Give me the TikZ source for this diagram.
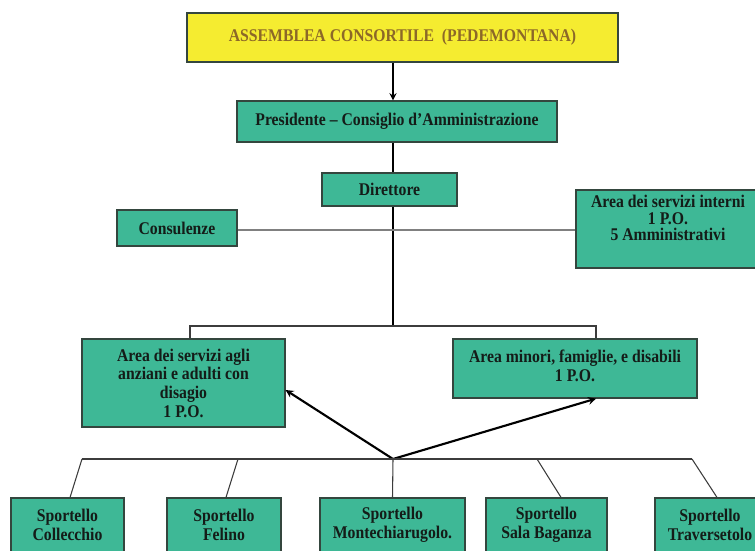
\documentclass[tikz,border=0pt]{standalone}
\usepackage{fontspec}
\setmainfont{Liberation Serif}[FakeStretch=0.88]
\definecolor{boxgreen}{RGB}{62,184,150}
\definecolor{boxline}{RGB}{52,70,62}
\definecolor{boxtext}{RGB}{20,28,24}
\definecolor{assyellow}{RGB}{245,236,48}
\definecolor{asstext}{RGB}{140,104,40}
\definecolor{linegray}{RGB}{60,60,60}
\tikzset{
  box/.style={draw=boxline, fill=boxgreen, line width=0.9pt, text=boxtext, align=center, inner sep=0pt,
    font=\bfseries\fontsize{13.4}{14}\selectfont},
  link/.style={draw=linegray, line width=0.8pt},
  bigarrow/.style={->, draw=black, line width=1.6pt}
}
\begin{document}
\begin{tikzpicture}[x=0.75pt,y=-0.75pt,>=stealth]
\useasboundingbox (0,0) rectangle (755,550);
\clip (0,0) rectangle (755,550);
\coordinate (spine) at (393,0);
\coordinate (cross) at (393,230);
\coordinate (bl) at (190,326);
\coordinate (br) at (596,326);
\coordinate (jn) at (393,459);
\coordinate (b1) at (82,459);
\coordinate (b2) at (238,459);
\coordinate (b4) at (537,459);
\coordinate (b5) at (692,459);
\node[box, fill=assyellow, text=asstext, minimum width=323.25pt, minimum height=36.75pt] (assemblea) at (402.5,37.5) {ASSEMBLEA CONSORTILE\ \ (PEDEMONTANA)};
\node[box, minimum width=240pt, minimum height=30.75pt] (presidente) at (397,121.5) {Presidente -- Consiglio d’Amministrazione};
\node[box, minimum width=101.25pt, minimum height=24.75pt] (direttore) at (389.5,189.5) {Direttore};
\node[box, minimum width=90pt, minimum height=27pt] (consulenze) at (177,228) {Consulenze};
\node[box, minimum width=138pt, minimum height=58.5pt] (interni) at (668,229) {\parbox[c][51pt][t]{136pt}{\centering\fontsize{13.4}{12.5}\selectfont Area dei servizi interni\\1 P.O.\\5 Amministrativi}};
\node[box, minimum width=152.25pt, minimum height=66pt] (anziani) at (183.5,383) {Area dei servizi agli\\anziani e adulti con\\disagio\\1 P.O.};
\node[box, minimum width=183pt, minimum height=44.25pt] (minori) at (575,368.5) {\parbox[c][27.75pt][t]{180pt}{\centering Area minori, famiglie, e disabili\\1 P.O.}};
\node[box, minimum width=84.75pt, minimum height=40.5pt] (collecchio) at (67.5,525) {Sportello\\Collecchio};
\node[box, minimum width=85.5pt, minimum height=40.5pt] (felino) at (224,525) {Sportello\\Felino};
\node[box, minimum width=108.75pt, minimum height=40.5pt] (montechiarugolo) at (392.5,525) {Sportello\\Montechiarugolo.};
\node[box, minimum width=90.75pt, minimum height=40.5pt] (sala) at (546.5,525) {Sportello\\Sala Baganza};
\node[box, minimum width=82.5pt, minimum height=40.5pt] (traversetolo) at (710,525) {Sportello\\Traversetolo};
\draw[->, line width=1.4pt] (assemblea.south -| spine) -- (presidente.north -| spine);
\draw[link, draw=black] (presidente.south -| spine) -- (direttore.north -| spine);
\draw[link, draw=black] (direttore.south -| spine) -- (spine |- bl);
\draw[link, draw=gray, line width=1pt] (consulenze.east |- cross) -- (interni.west |- cross);
\draw[link] (anziani.north -| bl) -- (bl) -- (br) -- (minori.north -| br);
\draw[bigarrow] (jn) -- ([yshift=-5.25pt]anziani.east);
\draw[bigarrow] (jn) -- (minori.south -| br);
\draw[link] (b1) -- (b5);
\draw[link] (b1) -- ([xshift=1.9pt]collecchio.north);
\draw[link] (b2) -- ([xshift=1.5pt]felino.north);
\draw[link] (jn) -- (montechiarugolo.north);
\draw[link] (b4) -- ([xshift=10.9pt]sala.north);
\draw[link] (b5) -- ([xshift=5.25pt]traversetolo.north);
\end{tikzpicture}
\end{document}
